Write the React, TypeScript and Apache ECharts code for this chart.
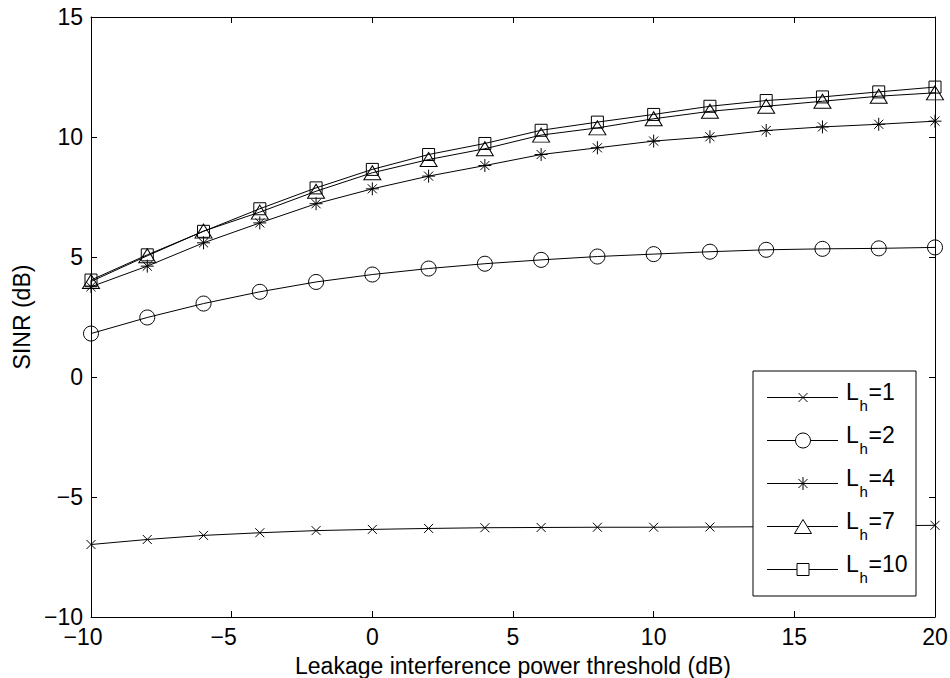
import React, { useEffect, useRef } from "react";
import * as echarts from "echarts";

const xValues = [-10, -8, -6, -4, -2, 0, 2, 4, 6, 8, 10, 12, 14, 16, 18, 20];
const lh1 = [-6.98, -6.77, -6.6, -6.49, -6.4, -6.35, -6.31, -6.28, -6.27, -6.26, -6.26, -6.25, -6.24, -6.22, -6.2, -6.18];
const lh2 = [1.81, 2.48, 3.06, 3.55, 3.96, 4.27, 4.52, 4.72, 4.88, 5.02, 5.12, 5.22, 5.3, 5.34, 5.36, 5.4];
const lh4 = [3.76, 4.62, 5.59, 6.42, 7.22, 7.84, 8.37, 8.81, 9.27, 9.55, 9.83, 10.01, 10.27, 10.42, 10.53, 10.66];
const lh7 = [3.98, 5.05, 6.08, 6.87, 7.74, 8.51, 9.06, 9.51, 10.08, 10.38, 10.76, 11.07, 11.28, 11.49, 11.7, 11.84];
const lh10 = [4.04, 5.09, 6.07, 7.01, 7.88, 8.65, 9.27, 9.73, 10.28, 10.62, 10.94, 11.28, 11.52, 11.67, 11.88, 12.08];

const seriesNames = ["1", "2", "4", "7", "10"];
const seriesValues = [lh1, lh2, lh4, lh7, lh10];
const xTicks = { min: -10, max: 20, interval: 5 };
const yTicks = { min: -10, max: 15, interval: 5 };

const FONT = "'Liberation Sans', Arial, Helvetica, sans-serif";
const FS = 23;

const markers = [
  { symbol: "path://M0,0L10,10M10,0L0,10", size: 9 },
  { symbol: "circle", size: 15 },
  { symbol: "path://M5,0L5,10M0,5L10,5M1.5,1.5L8.5,8.5M8.5,1.5L1.5,8.5", size: 13 },
  { symbol: "triangle", size: [17, 14] },
  { symbol: "rect", size: 12 },
];

const fmtX = (v: number) => (v < 0 ? "{n|\u2212" + Math.abs(v) + "}" : "{p|" + v + "}");
const fmtY = (v: number) => (v < 0 ? "\u2212" + Math.abs(v) : String(v));

// legend box geometry (decoration only)
const LG = { x: 753, y: 371, w: 163, h: 225, row0: 25.7, rowStep: 43.1, lineX0: 767, lineX1: 838, mx: 803, tx: 846 };

function legendMarker(i: number, cx: number, cy: number): any[] {
  const st = { stroke: "#000", lineWidth: 1, fill: "none" };
  if (i === 0) {
    const r = 4.5;
    return [
      { type: "line", shape: { x1: cx - r, y1: cy - r, x2: cx + r, y2: cy + r }, style: st },
      { type: "line", shape: { x1: cx + r, y1: cy - r, x2: cx - r, y2: cy + r }, style: st },
    ];
  }
  if (i === 1) return [{ type: "circle", shape: { cx, cy, r: 7.5 }, style: { ...st, fill: "#fff" } }];
  if (i === 2) {
    const r = 6.5;
    const d = r * 0.7;
    return [
      { type: "line", shape: { x1: cx, y1: cy - r, x2: cx, y2: cy + r }, style: st },
      { type: "line", shape: { x1: cx - r, y1: cy, x2: cx + r, y2: cy }, style: st },
      { type: "line", shape: { x1: cx - d, y1: cy - d, x2: cx + d, y2: cy + d }, style: st },
      { type: "line", shape: { x1: cx + d, y1: cy - d, x2: cx - d, y2: cy + d }, style: st },
    ];
  }
  if (i === 3)
    return [
      {
        type: "polygon",
        shape: { points: [[cx, cy - 7], [cx + 8.5, cy + 7], [cx - 8.5, cy + 7]] },
        style: { ...st, fill: "#fff" },
      },
    ];
  return [{ type: "rect", shape: { x: cx - 6, y: cy - 6, width: 12, height: 12 }, style: { ...st, fill: "#fff" } }];
}

function buildLegend(): any[] {
  const els: any[] = [
    {
      type: "rect",
      shape: { x: LG.x, y: LG.y, width: LG.w, height: LG.h },
      style: { fill: "#fff", stroke: "#000", lineWidth: 1 },
      z: 100,
    },
  ];
  seriesNames.forEach((n, i) => {
    const cy = Math.round(LG.y + LG.row0 + LG.rowStep * i) + 0.5;
    els.push({
      type: "line",
      shape: { x1: LG.lineX0, y1: cy, x2: LG.lineX1, y2: cy },
      style: { stroke: "#000", lineWidth: 1 },
      z: 101,
    });
    legendMarker(i, LG.mx, cy).forEach((m) => els.push({ ...m, z: 102 }));
    els.push({
      type: "text",
      x: LG.tx,
      y: cy - 6,
      style: { text: "L", font: `${FS}px ${FONT}`, fill: "#000", textVerticalAlign: "middle", textAlign: "left" },
      z: 102,
    });
    els.push({
      type: "text",
      x: LG.tx + 13.5,
      y: cy + 8,
      style: { text: "h", font: `15px ${FONT}`, fill: "#000", textVerticalAlign: "middle", textAlign: "left" },
      z: 102,
    });
    els.push({
      type: "text",
      x: LG.tx + 22.5,
      y: cy - 6,
      style: { text: "=" + n, font: `${FS}px ${FONT}`, fill: "#000", textVerticalAlign: "middle", textAlign: "left" },
      z: 102,
    });
  });
  return els;
}

export default function App() {
  const ref = useRef<HTMLDivElement>(null);
  useEffect(() => {
    if (!ref.current) return;
    const chart = echarts.init(ref.current, undefined, { renderer: "svg" });
    const axisCommon = {
      type: "value" as const,
      axisLine: { show: true, onZero: false, lineStyle: { color: "#000", width: 1 } },
      axisTick: { show: true, inside: true, length: 6, lineStyle: { color: "#000" } },
      splitLine: { show: false },
    };
    chart.setOption({
      animation: false,
      backgroundColor: "#fff",
      textStyle: { fontFamily: FONT },
      grid: { left: 91, top: 17, width: 844, height: 600, containLabel: false, outerBoundsMode: "none" },
      xAxis: [
        {
          ...axisCommon,
          ...xTicks,
          position: "bottom",
          name: "Leakage interference power threshold (dB)",
          nameLocation: "middle",
          nameGap: 37,
          nameTextStyle: { fontSize: FS, color: "#000", fontFamily: FONT },
          axisLabel: {
            show: true,
            margin: 11,
            fontSize: FS,
            lineHeight: 17,
            color: "#000",
            fontFamily: FONT,
            formatter: fmtX,
            rich: {
              n: { fontSize: FS, lineHeight: 17, color: "#000", fontFamily: FONT, padding: [0, 16, 0, 0] },
              p: { fontSize: FS, lineHeight: 17, color: "#000", fontFamily: FONT },
            },
          },
        },
        {
          ...axisCommon,
          ...xTicks,
          position: "top",
          axisLabel: { show: false },
        },
      ],
      yAxis: [
        {
          ...axisCommon,
          ...yTicks,
          position: "left",
          name: "SINR (dB)",
          nameLocation: "middle",
          nameGap: 54,
          nameTextStyle: { fontSize: FS, color: "#000", fontFamily: FONT },
          axisLabel: { show: true, margin: 8, fontSize: FS, lineHeight: 17, color: "#000", fontFamily: FONT, formatter: fmtY },
        },
        {
          ...axisCommon,
          ...yTicks,
          position: "right",
          axisLabel: { show: false },
        },
      ],
      graphic: { elements: buildLegend() },
      series: seriesValues.map((vals, i) => ({
        name: "Lh=" + seriesNames[i],
        type: "line",
        xAxisIndex: 0,
        yAxisIndex: 0,
        clip: false,
        data: vals.map((v, j) => [xValues[j], v]),
        symbol: markers[i].symbol,
        symbolSize: markers[i].size,
        showAllSymbol: true,
        lineStyle: { color: "#000", width: 1 },
        itemStyle: { color: "transparent", borderColor: "#000", borderWidth: 1 },
        emphasis: { disabled: true },
      })),
    });
    return () => chart.dispose();
  }, []);
  return <div ref={ref} style={{ position: "absolute", left: 0, top: 0, width: 950, height: 678 }} />;
}
